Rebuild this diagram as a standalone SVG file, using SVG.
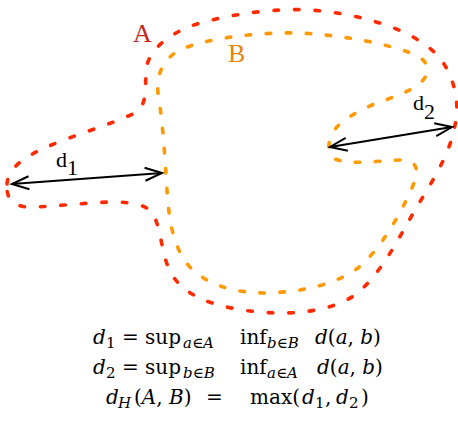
<svg xmlns="http://www.w3.org/2000/svg" width="458" height="424" viewBox="0 0 458 424">
<defs>
<style>
.setA{fill:none;stroke:#ff2a00;stroke-width:3.6;stroke-linecap:round;stroke-dasharray:4.5 16}
.setB{fill:none;stroke:#ff9900;stroke-width:3.6;stroke-linecap:round;stroke-dasharray:4.5 15.5}
.conn{fill:none;stroke:#000;stroke-width:2}
.lbl{font-family:"Liberation Serif","DejaVu Serif",serif;font-size:22px;fill:#000}
.math{font-family:"DejaVu Serif","Liberation Serif",serif;font-size:20px;fill:#000}
.it{font-style:italic}
.sub{font-size:15px}
</style>
<marker id="ah" markerUnits="userSpaceOnUse" markerWidth="22" markerHeight="16" viewBox="0 0 22 16" refX="18" refY="8" orient="auto-start-reverse">
<path d="M1,1.5 L18,8 L1,14.5" fill="none" stroke="#000" stroke-width="2"/>
</marker>
</defs>
<rect width="458" height="424" fill="#fff"/>
<g id="setA">
<path class="setA" d="M7,184 C8,170 20,160 40,150 C70,136 110,125 135,113 C148,106 145,85 146,70 C148,50 170,32 200,23 C240,12 290,6 330,12 C380,19 420,35 440,58 C455,78 460,105 455,125 C450,155 430,185 415,210 C395,245 380,275 355,295 C330,312 290,316 250,311 C210,306 185,295 172,275 C162,258 162,235 155,218 C150,205 135,202 110,202 C80,203 50,207 30,207 C12,207 6,198 7,184 Z"/>
<text x="133" y="42" style="font-family:'Liberation Serif','DejaVu Serif',serif;font-size:26px;fill:#c4281c">A</text>
</g>
<g id="setB">
<path class="setB" d="M329,147 C328,128 348,116 372,105 C395,96 418,90 426,76 C431,66 424,57 408,52 C385,44 350,36 300,33 C260,32 205,38 180,50 C160,60 155,80 159,100 C163,125 165,160 167,190 C169,225 175,255 195,272 C215,288 240,293 267,293 C300,292 335,285 358,268 C380,250 400,215 412,188 C420,170 418,160 400,160 C375,161 350,165 335,159 C329,156 329,151 329,147 Z"/>
<text x="228" y="62" style="font-family:'Liberation Serif','DejaVu Serif',serif;font-size:26px;fill:#e6840c">B</text>
</g>
<g id="connectors">
<line class="conn" x1="12" y1="184" x2="162" y2="173" marker-start="url(#ah)" marker-end="url(#ah)"/>
<line class="conn" x1="330" y1="147" x2="452" y2="127" marker-start="url(#ah)" marker-end="url(#ah)"/>
</g>
<g id="labels">
<text class="lbl" x="56" y="167">d<tspan dy="8">1</tspan></text>
<text class="lbl" x="413" y="110">d<tspan dy="9">2</tspan></text>
</g>
<g id="formula">
<text class="math"><tspan class="it" x="93" y="344">d</tspan><tspan class="sub" x="106" y="348">1</tspan><tspan x="122" y="344">=</tspan><tspan x="145" y="344">sup</tspan><tspan class="sub" x="183" y="348"><tspan class="it">a</tspan>∈<tspan class="it">A</tspan></tspan><tspan x="240" y="344">inf</tspan><tspan class="sub" x="267" y="348"><tspan class="it">b</tspan>∈<tspan class="it">B</tspan></tspan><tspan x="315" y="344"><tspan class="it">d</tspan>(<tspan class="it">a</tspan>, <tspan class="it">b</tspan>)</tspan></text>
<text class="math"><tspan class="it" x="93" y="374">d</tspan><tspan class="sub" x="106" y="378">2</tspan><tspan x="122" y="374">=</tspan><tspan x="145" y="374">sup</tspan><tspan class="sub" x="183" y="378"><tspan class="it">b</tspan>∈<tspan class="it">B</tspan></tspan><tspan x="240" y="374">inf</tspan><tspan class="sub" x="267" y="378"><tspan class="it">a</tspan>∈<tspan class="it">A</tspan></tspan><tspan x="317" y="374"><tspan class="it">d</tspan>(<tspan class="it">a</tspan>, <tspan class="it">b</tspan>)</tspan></text>
<text class="math"><tspan class="it" x="106" y="404">d</tspan><tspan class="sub it" x="118" y="408">H</tspan><tspan x="134" y="404">(<tspan class="it">A</tspan>, <tspan class="it">B</tspan>)</tspan><tspan x="206" y="404">=</tspan><tspan x="250" y="404">max(</tspan><tspan class="it" x="302" y="404">d</tspan><tspan class="sub" x="315" y="408">1</tspan><tspan x="325" y="404">,</tspan><tspan class="it" x="336" y="404">d</tspan><tspan class="sub" x="349" y="408">2</tspan><tspan x="361" y="404">)</tspan></text>
</g>
</svg>
